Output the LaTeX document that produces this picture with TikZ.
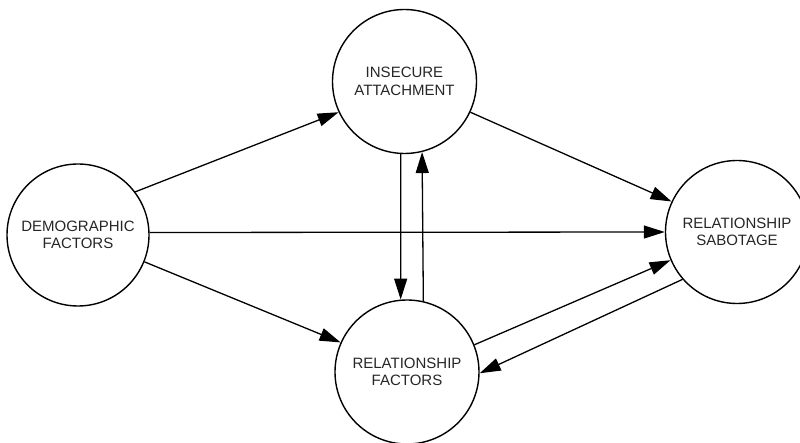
\documentclass[tikz,border=0pt]{standalone}
\usepackage{fontspec}
\setmainfont{Liberation Sans}
\usetikzlibrary{arrows.meta}
\begin{document}
\begin{tikzpicture}[x=1pt,y=-1pt,
  factor/.style={draw, circle, line width=1.4pt, inner sep=0pt, align=center,
    text=black!85, font=\fontsize{15}{17.5}\selectfont},
  link/.style={line width=1.3pt, -{Triangle[length=21pt,width=13pt]}}]
\useasboundingbox (0,0) rectangle (800,443);
% the four constructs
\node[factor, minimum size=142pt] (demo) at (78,235) {DEMOGRAPHIC\\FACTORS};
\node[factor, minimum size=144pt] (ins)  at (404.5,81.5) {INSECURE\\ATTACHMENT};
\node[factor, minimum size=144pt] (rel)  at (407,372) {RELATIONSHIP\\FACTORS};
\node[factor, minimum size=143pt] (sab)  at (737,232) {RELATIONSHIP\\SABOTAGE};
% paths between them
\draw[link] (demo.37) -- (ins.205);
\draw[link] (ins.-25) -- (sab.155.2);
\draw[link] (demo.2) -- (sab.180);
\draw[link] (demo.-22.4) -- (rel.156.6);
\draw[link] (ins.267) -- (rel.95);
\draw[link] (rel.77.4) -- (ins.284.6);
\draw[link] (rel.22.7) -- (sab.203.1);
\draw[link] (sab.221.1) -- (rel.-1);
\end{tikzpicture}
\end{document}
